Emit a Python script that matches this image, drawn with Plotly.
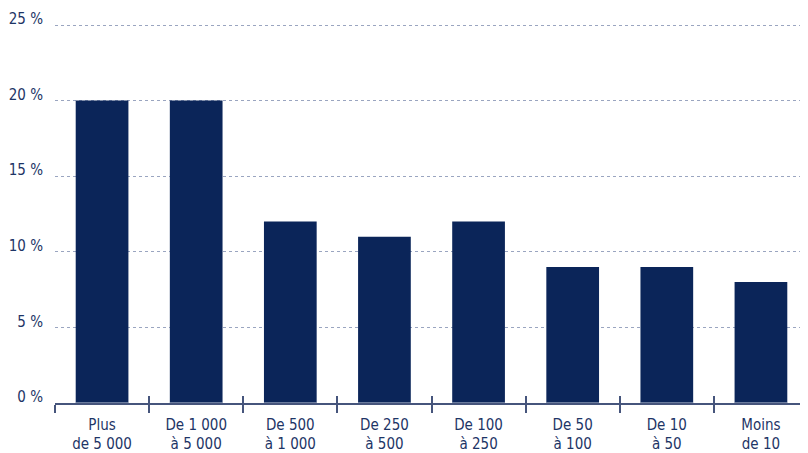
import plotly.graph_objects as go

categories = ["Plus<br>de 5 000", "De 1 000<br>à 5 000", "De 500<br>à 1 000", "De 250<br>à 500",
              "De 100<br>à 250", "De 50<br>à 100", "De 10<br>à 50", "Moins<br>de 10"]
values = [20, 20, 12, 11, 12, 9, 9, 8]
y_ticks = [0, 5, 10, 15, 20, 25]
y_tick_labels = ["0 %", "5 %", "10 %", "15 %", "20 %", "25 %"]

navy = "#0b2559"
text_col = "#1d3566"
axis_col = "#46557c"
font_family = "DejaVu Sans Condensed, Roboto, sans-serif"

fig = go.Figure()
fig.add_trace(go.Bar(x=categories, y=values, marker=dict(color=navy, line=dict(width=0)),
                     hoverinfo="skip"))
# invisible trace on overlaid axis to draw upper half of crossing ticks
fig.add_trace(go.Bar(x=categories, y=[0]*len(categories), xaxis="x2", yaxis="y",
                     marker=dict(color="rgba(0,0,0,0)"), showlegend=False, hoverinfo="skip"))

fig.update_layout(
    width=800, height=445,
    margin=dict(l=47, r=0, t=9, b=50, autoexpand=False),
    paper_bgcolor="white", plot_bgcolor="white",
    showlegend=False,
    bargap=0.44,
    font=dict(family=font_family, color=text_col, size=15),
    xaxis=dict(
        type="category", range=[-0.5, 7.5], automargin=False,
        showline=True, linecolor=axis_col, linewidth=1.5,
        ticks="outside", tickson="boundaries", ticklen=8, tickcolor=axis_col, tickwidth=1.5,
        ticklabelstandoff=7,
        showgrid=False, tickfont=dict(size=15, color=text_col, family=font_family),
        fixedrange=True,
    ),
    xaxis2=dict(
        type="category", range=[-0.5, 7.5], overlaying="x", anchor="y",
        ticks="inside", tickson="boundaries", ticklen=7, tickcolor=axis_col, tickwidth=1.5,
        showticklabels=False, showgrid=False, showline=False, side="bottom",
    ),
    yaxis=dict(
        range=[0, 25.53], tickvals=y_ticks, ticktext=y_tick_labels, automargin=False,
        showgrid=True, gridcolor="#9aa5c0", griddash="dot", gridwidth=1,
        zeroline=False, showline=False, ticks="",
        ticklabelshift=-6, ticklabeloverflow="allow", ticklabelstandoff=11,
        tickfont=dict(size=15, color=text_col, family=font_family),
    ),
)

fig.write_html("out.html")
